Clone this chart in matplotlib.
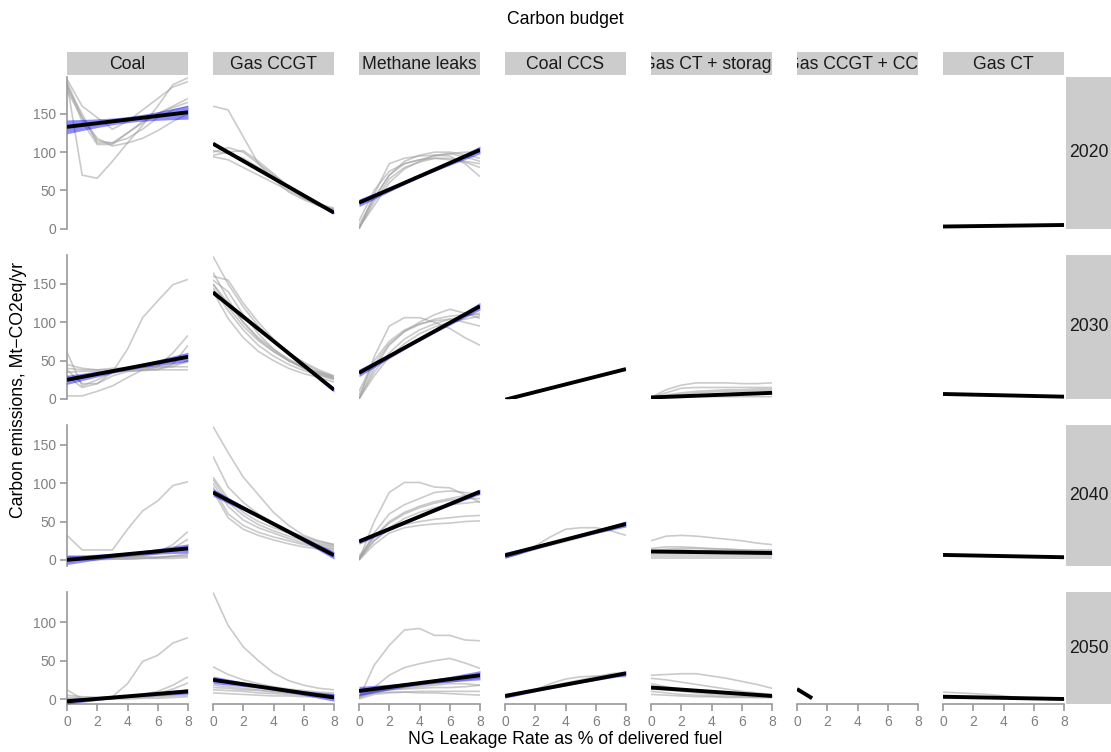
import numpy as np
import matplotlib
matplotlib.use("Agg")
import matplotlib.pyplot as plt

plt.rcParams['font.family'] = ['Liberation Sans', 'DejaVu Sans']

# ---------------------------------------------------------------- data
leak_rate = [0, 1, 2, 3, 4, 5, 6, 7, 8]
technologies = ["Coal", "Gas CCGT", "Methane leaks", "Coal CCS",
                "Gas CT + storage", "Gas CCGT + CCS", "Gas CT"]
years = ["2020", "2030", "2040", "2050"]

# scenario trajectories (Mt-CO2eq/yr at each leakage rate)
coal_2020 = [[190, 70, 66, 88, 112, 135, 160, 188, 197],
             [195, 160, 145, 130, 140, 155, 170, 185, 192],
             [188, 140, 110, 110, 125, 140, 150, 158, 165],
             [185, 150, 112, 112, 118, 130, 145, 155, 160],
             [180, 145, 118, 108, 112, 118, 128, 140, 150],
             [192, 145, 115, 112, 125, 138, 150, 160, 170]]
gas_ccgt_2020 = [[160, 155, 120, 85, 65, 48, 38, 30, 25],
                 [96, 100, 102, 88, 72, 55, 42, 32, 26],
                 [100, 106, 100, 85, 70, 55, 42, 30, 22],
                 [94, 90, 80, 70, 60, 50, 40, 32, 27],
                 [102, 98, 92, 80, 68, 54, 40, 30, 24]]
methane_2020 = [[0, 45, 85, 92, 95, 96, 95, 85, 68],
                [5, 40, 70, 85, 90, 95, 98, 100, 100],
                [0, 35, 65, 80, 87, 92, 92, 88, 85],
                [10, 50, 75, 85, 90, 92, 90, 87, 80],
                [2, 30, 60, 78, 88, 96, 98, 94, 88],
                [0, 40, 70, 88, 96, 100, 100, 97, 92]]
gas_ct_2020 = [[3, 3.2, 3.5, 3.8, 4, 4.3, 4.5, 4.8, 5]]

coal_2030 = [[61, 17, 25, 35, 40, 42, 42, 42, 42],
             [4, 4, 10, 17, 28, 38, 42, 45, 48],
             [38, 20, 20, 35, 65, 106, 128, 149, 156],
             [40, 38, 38, 40, 40, 40, 42, 60, 83],
             [45, 40, 38, 38, 38, 38, 38, 45, 70],
             [30, 15, 20, 30, 36, 38, 40, 42, 50],
             [35, 36, 36, 36, 36, 37, 38, 38, 38]]
gas_ccgt_2030 = [[186, 150, 120, 95, 75, 60, 48, 38, 30],
                 [160, 155, 125, 100, 78, 60, 46, 36, 28],
                 [155, 140, 110, 85, 65, 50, 40, 32, 26],
                 [150, 125, 100, 80, 65, 52, 42, 34, 28],
                 [145, 115, 90, 70, 56, 45, 37, 31, 25],
                 [165, 130, 100, 78, 62, 50, 40, 33, 27],
                 [140, 105, 80, 62, 50, 40, 33, 28, 22],
                 [150, 120, 95, 76, 62, 50, 41, 35, 30]]
methane_2030 = [[0, 55, 95, 106, 106, 100, 92, 80, 70],
                [0, 40, 70, 88, 100, 110, 117, 112, 105],
                [5, 45, 72, 88, 97, 104, 108, 110, 110],
                [0, 35, 60, 78, 90, 98, 104, 108, 112],
                [10, 50, 75, 90, 98, 102, 104, 100, 95],
                [0, 30, 55, 72, 85, 94, 100, 104, 108]]
coal_ccs_2030 = [[-1, 4, 9, 14, 19, 24, 29, 34, 39],
                 [0, 5, 10, 15, 19, 24, 29, 34, 38]]
gas_ct_storage_2030 = [[2, 12, 18, 21, 21, 21, 20, 20, 21],
                       [2, 8, 14, 15, 15, 15, 15, 15, 15],
                       [2, 5, 8, 10, 11, 12, 12, 13, 13],
                       [2, 3, 4, 5, 5, 6, 6, 6, 7],
                       [2, 2, 2, 3, 3, 3, 3, 3, 3],
                       [2, 4, 6, 8, 9, 10, 10, 11, 11]]
gas_ct_2030 = [[6.5, 6, 5.5, 5, 4.8, 4.3, 3.8, 3.4, 3]]

coal_2040 = [[32, 13, 13, 13, 40, 64, 77, 97, 102],
             [2, 2, 2, 3, 4, 6, 10, 20, 37],
             [1, 1, 1, 2, 3, 5, 8, 15, 27],
             [0, 0, 0, 1, 1, 2, 3, 5, 8],
             [3, 3, 3, 3, 3, 3, 3, 4, 5],
             [0, 0, 1, 1, 1, 2, 2, 2, 3],
             [5, 4, 4, 4, 4, 4, 4, 5, 6]]
gas_ccgt_2040 = [[174, 140, 108, 85, 62, 45, 32, 25, 20],
                 [135, 95, 75, 60, 48, 38, 30, 24, 20],
                 [108, 80, 62, 50, 42, 35, 28, 22, 18],
                 [100, 70, 52, 42, 35, 28, 22, 18, 15],
                 [95, 60, 45, 36, 30, 25, 20, 16, 14],
                 [105, 75, 58, 46, 38, 31, 25, 20, 17],
                 [90, 55, 40, 32, 26, 21, 17, 14, 12]]
methane_2040 = [[0, 50, 88, 101, 101, 95, 94, 85, 75],
                [0, 35, 60, 72, 80, 88, 90, 88, 85],
                [5, 30, 48, 60, 68, 74, 78, 80, 80],
                [0, 25, 42, 54, 62, 68, 72, 74, 76],
                [0, 20, 35, 42, 45, 47, 48, 50, 51],
                [3, 25, 40, 46, 50, 53, 55, 57, 58],
                [0, 30, 50, 62, 70, 76, 80, 84, 86]]
coal_ccs_2040 = [[3, 8, 18, 30, 40, 42, 42, 38, 32],
                 [5, 10, 15, 20, 25, 30, 35, 40, 45],
                 [6, 11, 16, 21, 26, 31, 36, 41, 47],
                 [4, 9, 14, 19, 24, 29, 35, 41, 48]]
gas_ct_storage_2040 = [[25, 31, 32, 31, 29, 27, 25, 22, 20],
                       [15, 17, 17, 16, 15, 14, 13, 12, 12],
                       [10, 12, 13, 12, 12, 11, 11, 11, 11],
                       [8, 8, 8, 8, 8, 8, 8, 8, 8],
                       [5, 5, 5, 5, 5, 5, 5, 5, 5],
                       [3, 3, 3, 3, 3, 3, 3, 3, 3],
                       [12, 14, 15, 15, 14, 14, 13, 13, 13]]
gas_ct_2040 = [[6.5, 6.2, 5.8, 5.4, 5, 4.6, 4.2, 3.8, 3.5]]

coal_2050 = [[12, 0, 1, 3, 20, 49, 57, 73, 80],
             [0, 0, 0, 1, 3, 6, 10, 18, 29],
             [0, 0, 0, 1, 2, 4, 7, 13, 21],
             [2, 2, 2, 2, 3, 3, 4, 6, 8],
             [0, 0, 0, 0, 0, 1, 1, 2, 3],
             [5, 3, 2, 2, 2, 2, 3, 4, 5]]
gas_ccgt_2050 = [[139, 96, 68, 50, 34, 24, 18, 14, 12],
                 [42, 32, 25, 20, 16, 13, 11, 9, 8],
                 [25, 22, 19, 16, 13, 11, 9, 7, 6],
                 [18, 16, 14, 12, 10, 8, 7, 6, 5],
                 [12, 11, 10, 8, 7, 6, 5, 4, 4],
                 [8, 7, 6, 5, 4, 4, 3, 3, 3],
                 [15, 14, 12, 11, 9, 8, 7, 6, 5]]
methane_2050 = [[1, 44, 70, 90, 92, 83, 83, 77, 76],
                [3, 15, 31, 41, 46, 50, 53, 47, 40],
                [2, 10, 14, 16, 18, 20, 22, 25, 28],
                [5, 10, 12, 13, 14, 15, 15, 16, 18],
                [0, 6, 8, 9, 10, 10, 10, 10, 10],
                [4, 8, 9, 9, 8, 8, 7, 6, 5],
                [2, 8, 12, 14, 16, 18, 20, 20, 18]]
coal_ccs_2050 = [[2, 6, 12, 20, 26, 29, 30, 30, 29],
                 [3, 7, 11, 15, 19, 23, 27, 31, 34],
                 [5, 9, 13, 17, 21, 25, 29, 33, 35]]
gas_ct_storage_2050 = [[31, 32, 33, 33, 30, 27, 23, 19, 14],
                       [27, 25, 22, 19, 16, 13, 10, 8, 6],
                       [20, 16, 13, 11, 9, 7, 6, 5, 4],
                       [15, 12, 10, 8, 6, 5, 4, 3, 3],
                       [10, 8, 6, 5, 4, 3, 3, 2, 2],
                       [6, 5, 4, 3, 3, 2, 2, 2, 2],
                       [13, 12, 11, 10, 8, 7, 6, 5, 4]]
gas_ccgt_ccs_2050 = [[13, 1]]
gas_ct_2050 = [[9, 8, 7, 6, 4, 2, 1, 0, 0],
               [3, 2.6, 2.2, 1.9, 1.5, 1.1, 0.8, 0.4, 0],
               [1, 1, 1, 1, 1, 1, 0, 0, 0]]

# linear fit: value at lowest and highest leakage rate, per technology
nan = np.nan
fit_start_2020 = [133, 111, 34, nan, nan, nan, 3]
fit_end_2020 = [152, 21, 103, nan, nan, nan, 5]
fit_start_2030 = [25, 139, 34, -1, 2, nan, 6.5]
fit_end_2030 = [55, 12, 121, 39, 8, nan, 3]
fit_start_2040 = [0, 88, 24, 6, 11, nan, 6.5]
fit_end_2040 = [15, 6, 89, 47, 9, nan, 3.5]
fit_start_2050 = [-3, 25, 10.5, 4, 15, 13, 3]
fit_end_2050 = [10, 2, 31, 33.5, 4, 1, 0]

# confidence band half-width at the ends and at the centre of the fit
ci_end_2020 = [9, 2, 5, nan, nan, nan, 0.4]
ci_mid_2020 = [4, 1, 2, nan, nan, nan, 0.2]
ci_end_2030 = [6, 3, 5, 0.4, 1.2, nan, 0.4]
ci_mid_2030 = [2.5, 1.5, 2, 0.2, 0.5, nan, 0.2]
ci_end_2040 = [6, 5, 3.5, 4, 1.5, nan, 0.5]
ci_mid_2040 = [2.5, 2, 1.5, 1.5, 0.7, nan, 0.2]
ci_end_2050 = [3.5, 5, 6, 3, 1.5, 0, 0.8]
ci_mid_2050 = [1.5, 2, 2.5, 1.5, 0.7, 0, 0.3]

scenarios = {
    "2020": [coal_2020, gas_ccgt_2020, methane_2020, [], [], [], gas_ct_2020],
    "2030": [coal_2030, gas_ccgt_2030, methane_2030, coal_ccs_2030,
             gas_ct_storage_2030, [], gas_ct_2030],
    "2040": [coal_2040, gas_ccgt_2040, methane_2040, coal_ccs_2040,
             gas_ct_storage_2040, [], gas_ct_2040],
    "2050": [coal_2050, gas_ccgt_2050, methane_2050, coal_ccs_2050,
             gas_ct_storage_2050, gas_ccgt_ccs_2050, gas_ct_2050],
}
fit_start = {"2020": fit_start_2020, "2030": fit_start_2030,
             "2040": fit_start_2040, "2050": fit_start_2050}
fit_end = {"2020": fit_end_2020, "2030": fit_end_2030,
           "2040": fit_end_2040, "2050": fit_end_2050}
ci_end = {"2020": ci_end_2020, "2030": ci_end_2030,
          "2040": ci_end_2040, "2050": ci_end_2050}
ci_mid = {"2020": ci_mid_2020, "2030": ci_mid_2030,
          "2040": ci_mid_2040, "2050": ci_mid_2050}

# ---------------------------------------------------------------- layout
W, H = 1111, 752
fig = plt.figure(figsize=(W / 100, H / 100), dpi=100)

col_left, col_w, col_step = 67, 121, 146
panel_top, panel_bottom, row_gap = 77, 704, 26
ylim_lo = [0, 0, -8, -6.5]
ylim_hi = [198, 188, 176, 139.5]
spans = [h - l for l, h in zip(ylim_lo, ylim_hi)]
px_per_unit = (panel_bottom - panel_top - row_gap * (len(years) - 1)) / sum(spans)

axis_grey = "#9a9a9a"
label_grey = "#808080"
strip_grey = "#cccccc"
strip_size = 12.7


def fig_rect(x0, y0, w, h):
    return [x0 / W, 1 - (y0 + h) / H, w / W, h / H]


row_tops = []
y = panel_top
for s in spans:
    row_tops.append(y)
    y += s * px_per_unit + row_gap

for r, year in enumerate(years):
    h = spans[r] * px_per_unit
    for c, tech in enumerate(technologies):
        ax = fig.add_axes(fig_rect(col_left + c * col_step, row_tops[r], col_w, h))
        ax.set_xlim(0, 8)
        ax.set_ylim(ylim_lo[r], ylim_hi[r])
        ax.patch.set_visible(False)
        for sp in ax.spines.values():
            sp.set_visible(False)

        lines = scenarios[year][c]
        for ln in lines:
            ax.plot(leak_rate[:len(ln)], ln, color="#a0a0a0", alpha=0.55,
                    lw=1.2, solid_capstyle="butt", zorder=2)

        y0, y1 = fit_start[year][c], fit_end[year][c]
        if not np.isnan(y0):
            xmax = leak_rate[max(len(ln) for ln in lines) - 1]
            xs = np.linspace(0, xmax, 60)
            ys = y0 + (y1 - y0) * xs / xmax
            e, m = ci_end[year][c], ci_mid[year][c]
            half = np.sqrt(m ** 2 + (e ** 2 - m ** 2) * ((xs - xmax / 2) / (xmax / 2)) ** 2)
            ax.fill_between(xs, ys - half, ys + half, color="blue", alpha=0.45,
                            lw=0, zorder=3)
            ax.plot(xs, ys, color="black", lw=2.8, solid_capstyle="butt", zorder=4)

        ax.tick_params(colors=axis_grey, labelcolor=label_grey, labelsize=10,
                       length=5, width=1.2, pad=3)
        if c == 0:
            ax.spines["left"].set_visible(True)
            ax.spines["left"].set_color(axis_grey)
            ax.spines["left"].set_linewidth(1.2)
            ax.set_yticks([t for t in [0, 50, 100, 150] if t <= ylim_hi[r]])
        else:
            ax.set_yticks([])
        if r == len(years) - 1:
            ax.spines["bottom"].set_visible(True)
            ax.spines["bottom"].set_color(axis_grey)
            ax.spines["bottom"].set_linewidth(1.2)
            ax.set_xticks([0, 2, 4, 6, 8])
        else:
            ax.set_xticks([])

    # year strip on the right
    sax = fig.add_axes(fig_rect(1066, row_tops[r], W - 1066, h))
    sax.set_facecolor(strip_grey)
    sax.set_xticks([]); sax.set_yticks([])
    for sp in sax.spines.values():
        sp.set_visible(False)
    sax.text(0.5, 0.5, year, transform=sax.transAxes, ha="center", va="center",
             fontsize=strip_size, color="#1a1a1a", clip_on=True)

# technology strips on top
for c, tech in enumerate(technologies):
    sax = fig.add_axes(fig_rect(col_left + c * col_step, 51.5, col_w, 23.5))
    sax.set_facecolor(strip_grey)
    sax.set_xticks([]); sax.set_yticks([])
    for sp in sax.spines.values():
        sp.set_visible(False)
    sax.text(0.5, 0.45, tech, transform=sax.transAxes, ha="center", va="center",
             fontsize=strip_size, color="#1a1a1a", clip_on=True)

fig.text(565 / W, 1 - 20 / H, "Carbon budget", ha="center", va="center",
         fontsize=strip_size, color="black")
fig.text(565 / W, 1 - 740 / H, "NG Leakage Rate as % of delivered fuel",
         ha="center", va="center", fontsize=strip_size, color="black")
fig.text(19 / W, 1 - 390 / H, "Carbon emissions, Mt\u2212CO2eq/yr",
         ha="center", va="center", rotation=90, fontsize=strip_size, color="black")

fig.savefig("out.png", dpi=100)
